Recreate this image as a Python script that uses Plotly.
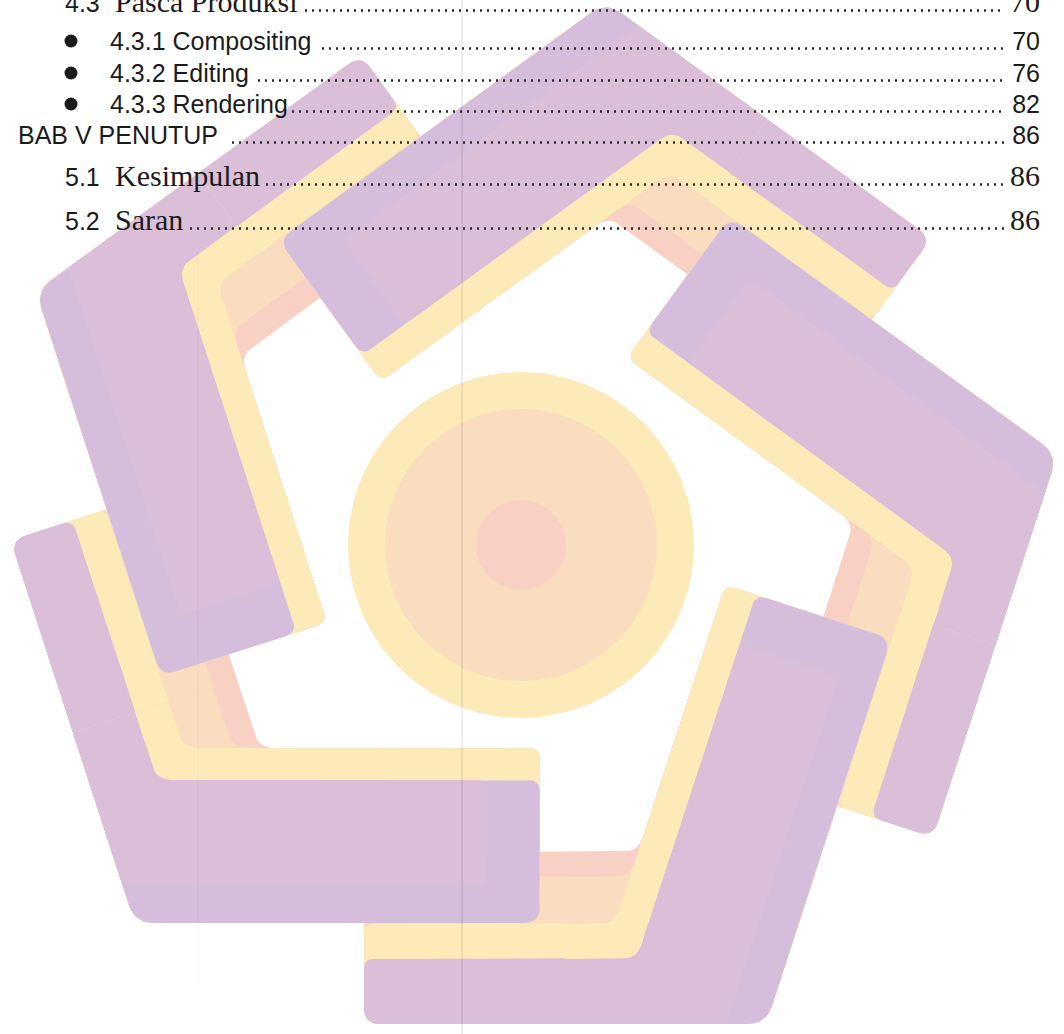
import numpy as np
import plotly.graph_objects as go

# ---------------- data (table of contents) ----------------
toc_numbers = ["4.3", "4.3.1", "4.3.2", "4.3.3", "BAB V", "5.1", "5.2"]
toc_titles = ["Pasca Produksi", "Compositing", "Editing", "Rendering", "PENUTUP", "Kesimpulan", "Saran"]
toc_pages = ["70", "70", "76", "82", "86", "86", "86"]
toc_bullets = [False, True, True, True, False, False, False]

# ---------------- layout / style constants ----------------
W, H = 1064, 1034
SANS = "Liberation Sans, Arial, sans-serif"
SERIF = "Liberation Serif, Times New Roman, serif"
TEXT_COLOR = "#1b1b1b"
SANS_SIZE, SERIF_SIZE = 25, 30
row_baseline = [12, 50, 82, 113, 144, 186, 230]
row_serif = [True, False, False, False, False, True, True]
row_x = [65, 110, 110, 110, 18, 65, 65]
serif_title_x = 115
bullet_x = 71
bullet_rise = 9
leader_start = [305, 322, 258, 292, 232, 266, 190]
leader_end = 1004
page_right = 1040

# watermark logo geometry (one arm, repeated every 72 degrees)
PENT_C = np.array([520.0, 539.0])
APEX = np.array([86.0, -537.0])
c36, s36 = np.cos(np.radians(36)), np.sin(np.radians(36))
D_CW, D_CCW = np.array([c36, s36]), np.array([-c36, s36])
N_CW, N_CCW = np.array([-s36, c36]), np.array([s36, c36])
L_CW, L_CCW, L_CW_SHORT = 402.0, 405.0, 200.0
A_PUR, A_YEL, A_PEA, A_PNK = 65.0, 100.0, 147.0, 172.0
B_PUR, B_TOT = 143.0, 175.0
INSET_S1, INSET_S2 = 38.0, 52.0
CIRC_C = (521.0, 545.0)
CIRC_R = [173.0, 136.0, 45.0]

PURPLE_BLUE = "#d5bedc"
PURPLE_PINK = "#dbbfd8"
YELLOW = "#fcebb9"
PEACH = "#fadcbf"
PINK = "#f9d1c4"


def fillet(verts, radii, nseg=10):
    out = []
    n = len(verts)
    for i in range(n):
        V = np.asarray(verts[i], float)
        r = radii[i]
        if r <= 0:
            out.append(V)
            continue
        Pp = np.asarray(verts[i - 1], float)
        Pn = np.asarray(verts[(i + 1) % n], float)
        u1 = Pp - V
        l1 = np.linalg.norm(u1)
        u1 /= l1
        u2 = Pn - V
        l2 = np.linalg.norm(u2)
        u2 /= l2
        ang = np.arccos(np.clip(np.dot(u1, u2), -1, 1))
        t = r / np.tan(ang / 2)
        t = min(t, 0.45 * l1, 0.45 * l2)
        T1, T2 = V + u1 * t, V + u2 * t
        for s in np.linspace(0, 1, nseg):
            out.append((1 - s) ** 2 * T1 + 2 * s * (1 - s) * V + s ** 2 * T2)
    return np.array(out)


def inner_corner(a, b):
    M = np.array([N_CW, N_CCW])
    return APEX + np.linalg.solve(M, np.array([a, b]))


def chevron_poly(a, b, lcw, full=True):
    A = APEX
    E2 = A + lcw * D_CW
    E2i = E2 + a * N_CW
    P = inner_corner(a, b)
    E1 = A + L_CCW * D_CCW
    E1i = E1 + b * N_CCW
    verts = [A, E2, E2i, P, E1i, E1]
    radii = [26, 16 if full else 0, 10 if full else 0, 20, 12, 16]
    return fillet(verts, radii)


def inset_poly(a, b, lcw, full=True):
    A2 = APEX + (INSET_S1 / np.dot(D_CW, N_CCW)) * D_CW
    E2 = APEX + lcw * D_CW
    E2i = E2 + a * N_CW
    P = inner_corner(a, b)
    E1 = APEX + (L_CCW - INSET_S2) * D_CCW
    E1i = E1 + b * N_CCW
    E1o = E1 + INSET_S1 * N_CCW
    verts = [A2, E2, E2i, P, E1i, E1o]
    radii = [4, 16 if full else 0, 10 if full else 0, 20, 10, 14]
    return fillet(verts, radii)


def place(pts, k):
    th = np.radians(72 * k)
    c, s = np.cos(th), np.sin(th)
    x = pts[:, 0] * c - pts[:, 1] * s + PENT_C[0]
    y = pts[:, 0] * s + pts[:, 1] * c + PENT_C[1]
    return x, y


def poly_trace(x, y, color):
    return go.Scatter(x=x, y=y, mode="lines", fill="toself", fillcolor=color,
                      line=dict(width=0, color=color), hoverinfo="skip", showlegend=False)


fig = go.Figure()

# circle in the middle of the logo
for r, col in zip(CIRC_R, [YELLOW, PEACH, PINK]):
    t = np.linspace(0, 2 * np.pi, 240)
    fig.add_trace(poly_trace(CIRC_C[0] + r * np.cos(t), CIRC_C[1] + r * np.sin(t), col))

layers = [(PINK, A_PNK, B_TOT), (PEACH, A_PEA, B_TOT), (YELLOW, A_YEL, B_TOT), (PURPLE_BLUE, A_PUR, B_PUR)]

# pass 1: full arms; pass 2: arms with shortened clockwise leg (pinwheel overlap)
for lcw, full in [(L_CW, True), (L_CW_SHORT, False)]:
    for k in range(5):
        for col, a, b in layers:
            x, y = place(chevron_poly(a, b, lcw, full), k)
            fig.add_trace(poly_trace(x, y, col))
        x, y = place(inset_poly(A_PUR, B_PUR, lcw, full), k)
        fig.add_trace(poly_trace(x, y, PURPLE_PINK))

# faint scan lines
fig.add_trace(go.Scatter(x=[462, 462], y=[0, H], mode="lines",
                         line=dict(color="rgba(0,0,0,0.09)", width=1.5), hoverinfo="skip"))
fig.add_trace(go.Scatter(x=[198, 198], y=[250, 980], mode="lines",
                         line=dict(color="rgba(0,0,0,0.035)", width=1.2), hoverinfo="skip"))


def text_trace(x, y, txt, family, size, pos):
    return go.Scatter(x=[x], y=[y], mode="text", text=[txt], textposition=pos,
                      textfont=dict(family=family, size=size, color=TEXT_COLOR),
                      hoverinfo="skip", showlegend=False, cliponaxis=False)


# list bullets
bx = [bullet_x for i in range(len(toc_titles)) if toc_bullets[i]]
by = [row_baseline[i] - bullet_rise for i in range(len(toc_titles)) if toc_bullets[i]]
fig.add_trace(go.Scatter(x=bx, y=by, mode="markers",
                         marker=dict(symbol="circle", size=13, color=TEXT_COLOR, line=dict(width=0)),
                         hoverinfo="skip", showlegend=False))

for i in range(len(toc_titles)):
    base = row_baseline[i]
    # dotted leader
    fig.add_trace(go.Scatter(x=[leader_start[i], leader_end], y=[base - 1.5, base - 1.5], mode="lines",
                             line=dict(color="#2a2a2a", width=2.3, dash="2px,5px"), hoverinfo="skip"))
    if row_serif[i]:
        fig.add_trace(text_trace(row_x[i], base - 0.25 * SANS_SIZE, toc_numbers[i], SANS, SANS_SIZE, "middle right"))
        fig.add_trace(text_trace(serif_title_x, base - 0.25 * SERIF_SIZE, toc_titles[i], SERIF, SERIF_SIZE, "middle right"))
        fig.add_trace(text_trace(page_right, base - 0.25 * SERIF_SIZE, toc_pages[i], SERIF, SERIF_SIZE, "middle left"))
    else:
        fig.add_trace(text_trace(row_x[i], base - 0.25 * SANS_SIZE, toc_numbers[i] + " " + toc_titles[i],
                                 SANS, SANS_SIZE, "middle right"))
        fig.add_trace(text_trace(page_right, base - 0.25 * SANS_SIZE, toc_pages[i], SANS, SANS_SIZE, "middle left"))

fig.update_layout(
    width=W, height=H, margin=dict(l=0, r=0, t=0, b=0),
    paper_bgcolor="white", plot_bgcolor="white", showlegend=False,
    xaxis=dict(range=[0, W], visible=False, fixedrange=True),
    yaxis=dict(range=[H, 0], visible=False, fixedrange=True),
)

fig.write_html("out.html", config={"displayModeBar": False},
               post_script="document.body.style.margin='0px';")
